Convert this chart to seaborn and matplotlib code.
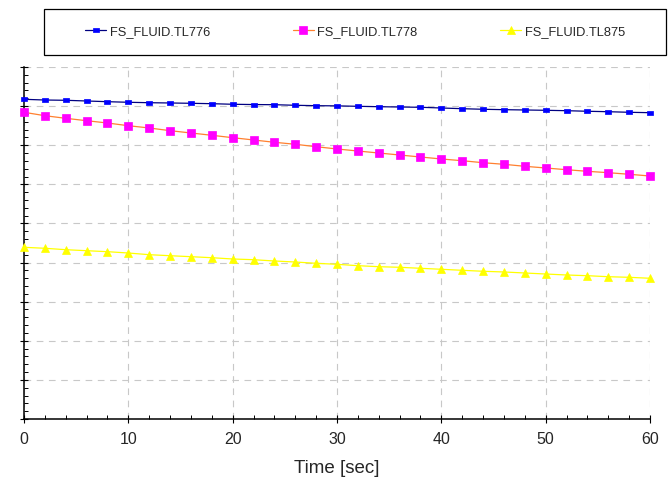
import matplotlib
matplotlib.use("Agg")
import matplotlib.pyplot as plt
import seaborn as sns
import pandas as pd
from matplotlib.ticker import MultipleLocator, NullFormatter
from matplotlib.patches import Rectangle

# Sample times (s)
time_sec = [0, 2, 4, 6, 8, 10, 12, 14, 16, 18, 20, 22, 24, 26, 28, 30,
            32, 34, 36, 38, 40, 42, 44, 46, 48, 50, 52, 54, 56, 58, 60]

# Fluid temperatures per node
tl776 = [81.74, 81.56, 81.49, 81.31, 81.13, 80.98, 80.87, 80.80, 80.72, 80.62,
         80.47, 80.40, 80.36, 80.21, 80.11, 80.06, 79.95, 79.85, 79.77, 79.70,
         79.52, 79.34, 79.19, 79.09, 79.01, 78.93, 78.83, 78.68, 78.57, 78.42,
         78.32]
tl778 = [78.42, 77.55, 76.88, 76.27, 75.68, 74.99, 74.41, 73.72, 73.13, 72.54,
         71.93, 71.34, 70.75, 70.24, 69.62, 69.04, 68.52, 68.01, 67.50, 66.99,
         66.48, 66.04, 65.53, 65.12, 64.61, 64.18, 63.74, 63.33, 62.98, 62.57,
         62.13]
tl875 = [43.90, 43.65, 43.29, 43.03, 42.78, 42.44, 42.01, 41.75, 41.50, 41.24,
         40.91, 40.73, 40.40, 40.14, 39.81, 39.55, 39.20, 38.94, 38.79, 38.53,
         38.28, 38.02, 37.77, 37.59, 37.33, 37.07, 36.82, 36.64, 36.38, 36.23,
         35.98]

series_names = ["FS_FLUID.TL776", "FS_FLUID.TL778", "FS_FLUID.TL875"]
x_ticks = [0, 10, 20, 30, 40, 50, 60]

sns.set_theme(style="ticks")
plt.rcParams["font.family"] = ["Liberation Sans", "DejaVu Sans"]

df = pd.DataFrame({"Time": time_sec,
                   series_names[0]: tl776,
                   series_names[1]: tl778,
                   series_names[2]: tl875})

fig = plt.figure(figsize=(6.72, 4.79), dpi=100)
ax = fig.add_axes([24 / 672, 1 - 419 / 479, (650 - 24) / 672, (419 - 67) / 479])

flat_rect = [(-1, -0.5), (1, -0.5), (1, 0.5), (-1, 0.5), (-1, -0.5)]
styles = [
    dict(color="#000080", marker=flat_rect, markersize=4.4,
         markerfacecolor="#0000FF", markeredgecolor="#0000FF"),
    dict(color="#FF8030", marker="s", markersize=5.2,
         markerfacecolor="#FF00FF", markeredgecolor="#FF00FF"),
    dict(color="#FFFF00", marker="^", markersize=5.6,
         markerfacecolor="#FFFF00", markeredgecolor="#FFFF00"),
]

for name, st in zip(series_names, styles):
    sns.lineplot(data=df, x="Time", y=name, ax=ax, linewidth=0.9,
                 markeredgewidth=0.5, clip_on=False, zorder=3,
                 legend=False, **st)

ax.set_xlim(0, 60)
ax.set_ylim(0, 90)
ax.set_xticks(x_ticks)
ax.xaxis.set_minor_locator(MultipleLocator(2))
ax.yaxis.set_major_locator(MultipleLocator(10))
ax.yaxis.set_minor_locator(MultipleLocator(2))
ax.yaxis.set_major_formatter(NullFormatter())

ax.set_axisbelow(True)
ax.grid(True, which="major", color="#C8C8C8", linestyle=(0, (6, 5)),
        linewidth=0.8)

for side in ("top", "right"):
    ax.spines[side].set_visible(False)
for side in ("left", "bottom"):
    ax.spines[side].set_color("black")
    ax.spines[side].set_linewidth(1.1)

ax.tick_params(which="major", direction="inout", length=6, width=0.8,
               color="black", labelsize=11.5, pad=6)
ax.tick_params(which="minor", direction="in", length=3, width=0.7,
               color="black")

ax.set_xlabel("Time [sec]", fontsize=13.5, labelpad=10)
ax.set_ylabel("")

handles = ax.get_lines()[:3]
fig.legend(handles, series_names, loc="center",
           bbox_to_anchor=(355 / 672, 1 - 32 / 479), ncol=3, frameon=False,
           fontsize=9.3, handlelength=1.63, handletextpad=0.27,
           columnspacing=6.4)
fig.add_artist(Rectangle((44 / 672, 1 - 55 / 479), (666 - 44) / 672, 46 / 479,
                         transform=fig.transFigure, fill=False,
                         edgecolor="black", linewidth=0.9))

fig.savefig("out.png", dpi=100)
